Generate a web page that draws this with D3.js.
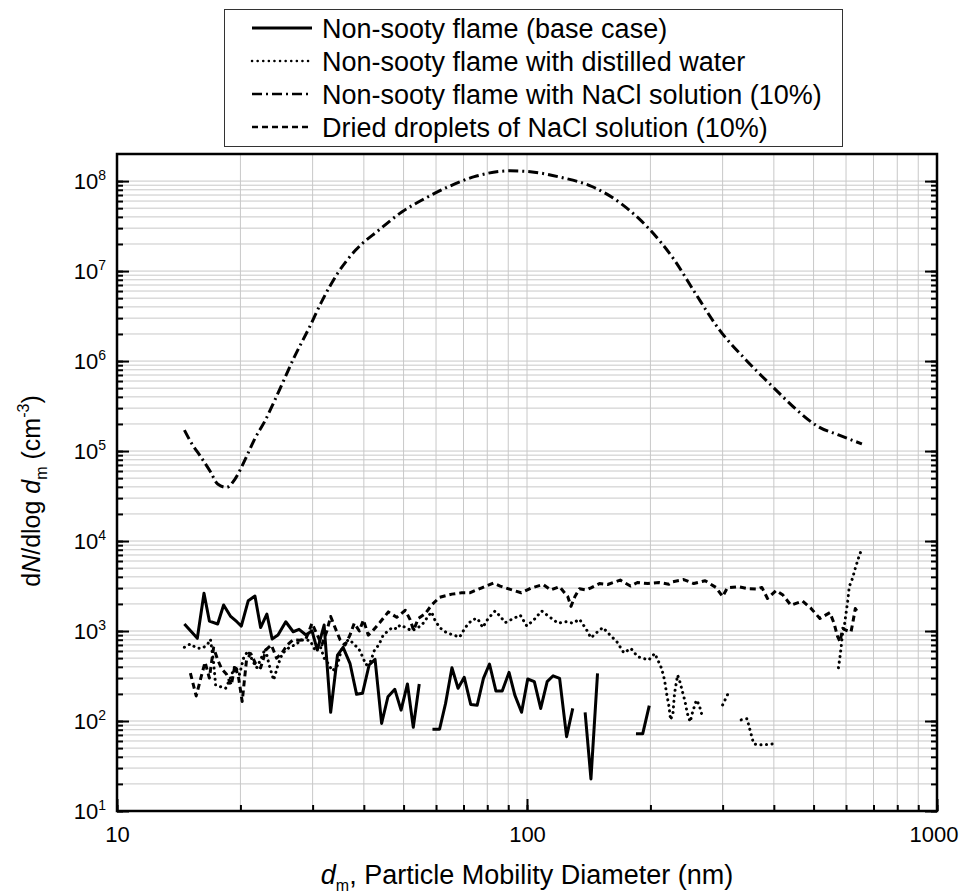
<!DOCTYPE html>
<html>
<head>
<meta charset="utf-8">
<script src="https://cdn.jsdelivr.net/npm/d3@7"></script>
<style>
body { margin: 0; background: #fff; }
svg text { font-family: "Liberation Sans", Arial, sans-serif; fill: #000; }
</style>
</head>
<body>
<div id="chart"></div>
<script>
// AXIS TICKS
const sizeTicks = [10, 100, 1000]
const countExponents = [1, 2, 3, 4, 5, 6, 7, 8]

// LEGEND LABELS
const seriesLabels = [
    'Non-sooty flame (base case)',
    'Non-sooty flame with distilled water',
    'Non-sooty flame with NaCl solution (10%)',
    'Dried droplets of NaCl solution (10%)'
]

// [d_m (nm), dN/dlog d_m] ; null = gap in the record
const baseCase = [
    [14.6, 1196], [15.7, 830], [16.3, 2625], [16.8, 1291], [17.6, 1196], [18.2, 1944], [18.9, 1468],
    [19.6, 1268], [20.1, 1136], [20.9, 2174], [21.7, 2449], [22.4, 1094], [23.2, 1545], [23.9, 815],
    [24.7, 903], [25.8, 1268], [26.9, 982], [27.8, 1043], [28.9, 903], [29.9, 1006], [30.8, 615],
    [32.0, 1166], [33.2, 125], [34.5, 541], [35.6, 659], [37.0, 438], [38.4, 198], [39.7, 203],
    [41.2, 419], [42.6, 485], [44.2, 94], [45.8, 186], [47.6, 225], [49.3, 132], [51.1, 258],
    [52.8, 85], [54.6, 258], [56.7, null], [58.8, 81], [61.2, 81], [63.3, 157], [65.6, 391],
    [67.9, 231], [70.3, 306], [72.9, 153], [75.6, 150], [78.3, 298], [81.0, 430], [84.0, 215],
    [87.0, 215], [90.4, 347], [93.4, 194], [97.0, 125], [100.4, 293], [104.2, 274], [108.0, 138],
    [112.0, 274], [115.8, 318], [120.1, 298], [124.9, 67], [129.3, 138], [134, null], [138.6, 125],
    [143.2, 22.7], [148.6, 339], [170, null], [184.4, 72], [191.5, 72], [198.7, 148]
]

const distilledWater = [
    [14.6, 660], [15.1, 720], [15.6, 650], [16.1, 640], [16.6, 700], [16.9, 810], [17.2, 450],
    [17.4, 250], [17.9, 240], [18.4, 230], [18.9, 300], [19.4, 410], [19.9, 330], [20.4, 520],
    [20.9, 600], [21.4, 470], [21.9, 390], [22.4, 480], [23.0, 640], [23.5, 420], [24.1, 285],
    [24.7, 420], [25.3, 560], [25.9, 620], [26.6, 680], [27.3, 700], [28.0, 790], [28.8, 800],
    [29.6, 780], [30.5, 600], [31.3, 680], [32.0, 500], [32.8, 430], [33.5, 360], [34.4, 400],
    [35.2, 600], [36.1, 770], [37.0, 800], [37.9, 700], [38.8, 650], [39.7, 520], [40.5, 420],
    [41.4, 440], [42.5, 620], [43.5, 700], [44.6, 900], [45.8, 1000], [47.0, 1100], [48.2, 1050],
    [49.0, 1166], [50.5, 1100], [52.3, 1006], [54.0, 1080], [55.4, 1166], [56.9, 1380], [58.5, 1630],
    [59.6, 1330], [61.2, 1094], [63.7, 954], [66.2, 903], [68.5, 854], [70.7, 1094], [73.4, 1330],
    [75.7, 1380], [78.0, 1094], [80.4, 1380], [83.6, 1670], [86.0, 1460], [88.5, 1240], [91.8, 1350],
    [96.3, 1500], [99.9, 1136], [103.9, 1330], [108.6, 1670], [113.8, 1420], [119.1, 1220],
    [124.9, 1270], [129.3, 1220], [134.3, 1350], [139.6, 1040], [143.2, 840], [148.6, 980],
    [153.1, 1094], [159.4, 903], [165.6, 762], [172.3, 572], [179.2, 641], [186.2, 518], [198, 476],
    [205, 564], [213, 383], [216.5, 285], [219, 203], [222, 145], [224, 103], [227, 122], [229, 203],
    [233, 324], [236, 272], [240, 203], [243, 164], [246, 122], [250, 98], [253, 122], [256, 145],
    [259, 171], [263, 151], [267, 117], [280, null], [300, 151], [309, 200], [320, null], [333, 103],
    [344, 106], [349, 83], [357, 56], [367, 54], [378, 55], [389, 55], [401, 56], [480, null],
    [575, 391], [580, 518], [585, 730], [589, 980], [594, 1120], [600, 1570], [606, 2190], [611, 3110],
    [622, 3840], [632, 4980], [643, 6410], [654, 7970]
]

const naclFlame = [
    [14.6, 171000], [15.2, 122000], [16.0, 86500], [16.9, 58900], [17.6, 43000], [18.5, 39500],
    [19.4, 48900], [20.6, 83000], [21.7, 138000], [23.0, 220000], [24.0, 330000], [25.2, 540000],
    [27.1, 1.12e6], [29.5, 2.4e6], [31.7, 4.76e6], [34.5, 9.4e6], [38.2, 1.71e7], [43.5, 2.85e7],
    [49.6, 4.56e7], [56.4, 6.42e7], [64.3, 8.65e7], [74.4, 1.12e8], [91.0, 1.30e8], [101.9, 1.27e8],
    [121.0, 1.10e8], [144.5, 8.65e7], [171.5, 5.41e7], [198, 2.98e7], [229, 1.32e7], [256, 5.89e6],
    [295, 2.21e6], [342, 1.03e6], [401, 4.98e5], [455, 2.86e5], [514, 1.86e5], [575, 1.51e5],
    [656, 1.2e5]
]

const driedDroplets = [
    [15.1, 340], [15.6, 190], [16.1, 330], [16.4, 450], [16.8, 300], [17.2, 650], [17.6, 480],
    [18.0, 380], [18.5, 330], [19.0, 250], [19.4, 420], [19.8, 300], [20.2, 165], [20.7, 480],
    [21.2, 560], [21.8, 430], [22.4, 390], [23.1, 620], [23.8, 700], [24.5, 500], [25.2, 560],
    [26.0, 700], [26.9, 800], [27.9, 790], [28.9, 820], [29.9, 1220], [30.8, 900], [31.6, 700],
    [32.5, 1000], [33.2, 1450], [34.0, 1100], [35.0, 800], [36.0, 700], [37.0, 900], [37.9, 1220],
    [39.0, 1000], [39.9, 1330], [41.0, 900], [42.0, 1000], [43.8, 1250], [45.9, 1630], [48.1, 1420],
    [50.5, 1700], [51.9, 1330], [52.9, 1020], [54.3, 1380], [56.4, 1550], [58.5, 1940], [61.2, 2370],
    [65.6, 2570], [69.3, 2660], [72.5, 2660], [77.6, 3020], [82.8, 3420], [86.0, 3160], [90.6, 2920],
    [96.8, 2660], [102.7, 3020], [109.5, 3290], [114.3, 2860], [120, 3110], [125.7, 2420], [128, 1880],
    [130.9, 2420], [134.3, 2950], [139.6, 2860], [143.2, 3020], [150.2, 3370], [157.3, 3290],
    [168.8, 3680], [178.8, 3160], [185.9, 3460], [197.3, 3370], [209.9, 3460], [221.9, 3310],
    [227, 3530], [241, 3730], [255, 3370], [272, 3620], [289, 3050], [300, 2420], [308, 3020],
    [327, 3110], [346, 2950], [363, 2920], [374, 3050], [386, 2300], [405, 2820], [421, 2510],
    [440, 1940], [470, 2150], [493, 1780], [518, 1380], [548, 1600], [561, 1220], [572, 870],
    [580, 760], [589, 1070], [600, 1020], [617, 980], [625, 1330], [632, 1780], [645, 1540]
]

const series = [baseCase, distilledWater, naclFlame, driedDroplets]
const dashes = [null, '0.1 5.5', '10 4 2 4', '6 4']
const caps = ['butt', 'round', 'butt', 'butt']

// SVG
const width = 960, height = 894
const margin = {top: 154, right: 23, bottom: 83, left: 117}

const svg = d3.select('#chart')
              .append('svg')
              .attr('width', width)
              .attr('height', height)

const x = d3.scaleLog()
            .domain([10, 1000])
            .range([margin.left, width - margin.right])

const y = d3.scaleLog()
            .domain([10, 2e8])
            .range([height - margin.bottom, margin.top])

const plotBottom = y.range()[0], plotTop = y.range()[1]
const plotLeft = x.range()[0], plotRight = x.range()[1]

// minor positions 1..9 x 10^n
let xMinor = []
sizeTicks.slice(0, -1).forEach(p => { for (let k = 1; k < 10; k++) xMinor.push(k * p) })
xMinor.push(1000)
let yMinor = []
countExponents.forEach(e => { for (let k = 1; k < 10; k++) yMinor.push(k * Math.pow(10, e)) })
yMinor = yMinor.filter(v => v < 2e8)
const yMajor = countExponents.map(e => Math.pow(10, e))

// GRID
svg.append('g')
   .selectAll('line')
   .data(xMinor)
   .enter()
   .append('line')
   .attr('x1', d => x(d)).attr('x2', d => x(d))
   .attr('y1', plotBottom).attr('y2', plotTop)
   .attr('stroke', '#c8c8c8')
   .attr('stroke-width', 1)

svg.append('g')
   .selectAll('line')
   .data(yMinor)
   .enter()
   .append('line')
   .attr('y1', d => y(d)).attr('y2', d => y(d))
   .attr('x1', plotLeft).attr('x2', plotRight)
   .attr('stroke', '#c8c8c8')
   .attr('stroke-width', 1)

// LINES
const line = d3.line()
               .defined(d => d[1] != null)
               .x(d => x(d[0]))
               .y(d => y(d[1]))

series.forEach((s, i) => {
    svg.append('path')
       .datum(s)
       .attr('fill', 'none')
       .attr('stroke', '#000')
       .attr('stroke-width', 3)
       .attr('stroke-linejoin', 'round')
       .attr('stroke-linecap', caps[i])
       .attr('stroke-dasharray', dashes[i])
       .attr('d', i === 2 ? line.curve(d3.curveMonotoneX)(s) : line.curve(d3.curveLinear)(s))
})

// AXES (ticks point inward)
const styleAxis = g => {
    g.select('.domain').remove()
    g.selectAll('line').attr('stroke', '#000').attr('stroke-width', 2)
}

svg.append('g')
   .attr('transform', `translate(0,${plotBottom})`)
   .call(d3.axisBottom(x).tickValues(xMinor).tickSizeInner(-6).tickSizeOuter(0).tickFormat(''))
   .call(styleAxis)

svg.append('g')
   .attr('transform', `translate(0,${plotBottom})`)
   .call(d3.axisBottom(x).tickValues(sizeTicks).tickSizeInner(-12).tickSizeOuter(0).tickPadding(15)
           .tickFormat(d3.format('d')))
   .call(styleAxis)
   .call(g => g.selectAll('text').attr('font-size', 22).attr('font-family', '"Liberation Sans", Arial, sans-serif'))
   // last label sits against the page edge
   .call(g => g.selectAll('text').filter(d => d === 1000).attr('text-anchor', 'end').attr('x', width - 2 - plotRight))

svg.append('g')
   .attr('transform', `translate(${plotLeft},0)`)
   .call(d3.axisLeft(y).tickValues(yMinor).tickSizeInner(-6).tickSizeOuter(0).tickFormat(''))
   .call(styleAxis)

svg.append('g')
   .attr('transform', `translate(${plotRight},0)`)
   .call(d3.axisRight(y).tickValues(yMinor).tickSizeInner(-6).tickSizeOuter(0).tickFormat(''))
   .call(styleAxis)

svg.append('g')
   .attr('transform', `translate(${plotRight},0)`)
   .call(d3.axisRight(y).tickValues(yMajor).tickSizeInner(-12).tickSizeOuter(0).tickFormat(''))
   .call(styleAxis)

const yAxis = svg.append('g')
   .attr('transform', `translate(${plotLeft},0)`)
   .call(d3.axisLeft(y).tickValues(yMajor).tickSizeInner(-12).tickSizeOuter(0).tickPadding(11).tickFormat(''))
   .call(styleAxis)

yAxis.selectAll('text')
     .attr('font-size', 22)
     .attr('font-family', '"Liberation Sans", Arial, sans-serif')
     .each(function (d) {
         const t = d3.select(this)
         t.append('tspan').text('10')
         t.append('tspan').attr('font-size', 14).attr('dy', '-0.62em').text(Math.round(Math.log10(d)))
     })

// FRAME
svg.append('rect')
   .attr('x', plotLeft).attr('y', plotTop)
   .attr('width', plotRight - plotLeft).attr('height', plotBottom - plotTop)
   .attr('fill', 'none')
   .attr('stroke', '#000')
   .attr('stroke-width', 2.5)

// AXIS TITLES
const xTitle = svg.append('text')
   .attr('x', (plotLeft + plotRight) / 2)
   .attr('y', 884)
   .attr('text-anchor', 'middle')
   .attr('font-size', 27)
xTitle.append('tspan').attr('font-style', 'italic').text('d')
xTitle.append('tspan').attr('font-size', 16).attr('dy', 7).text('m')
xTitle.append('tspan').attr('dy', -7).text(', Particle Mobility Diameter (nm)')

const yTitle = svg.append('text')
   .attr('transform', 'translate(40,491) rotate(-90)')
   .attr('text-anchor', 'middle')
   .attr('font-size', 25)
yTitle.append('tspan').text('d')
yTitle.append('tspan').attr('font-style', 'italic').text('N')
yTitle.append('tspan').text('/dlog ')
yTitle.append('tspan').attr('font-style', 'italic').text('d')
yTitle.append('tspan').attr('font-size', 16).attr('dy', 7).text('m')
yTitle.append('tspan').attr('dy', -7).text('\u00a0(cm')
yTitle.append('tspan').attr('font-size', 16).attr('dy', -11).text('-3')
yTitle.append('tspan').attr('dy', 11).text(')')

// LEGEND
const legend = svg.append('g')
legend.append('rect')
      .attr('x', 224.5).attr('y', 9.5)
      .attr('width', 618).attr('height', 137)
      .attr('fill', '#fff')
      .attr('stroke', '#333')
      .attr('stroke-width', 1)

const rows = legend.selectAll('g.row')
      .data(seriesLabels)
      .enter()
      .append('g')
      .attr('class', 'row')
      .attr('transform', (d, i) => `translate(0,${28 + i * 33})`)

rows.append('line')
    .attr('x1', 252).attr('x2', 312)
    .attr('stroke', '#000')
    .attr('stroke-width', (d, i) => i === 0 ? 3 : 2.5)
    .attr('stroke-linecap', (d, i) => caps[i])
    .attr('stroke-dasharray', (d, i) => dashes[i])

rows.append('text')
    .attr('x', 322)
    .attr('dy', 9.5)
    .attr('font-size', 27)
    .text(d => d)
</script>
</body>
</html>
